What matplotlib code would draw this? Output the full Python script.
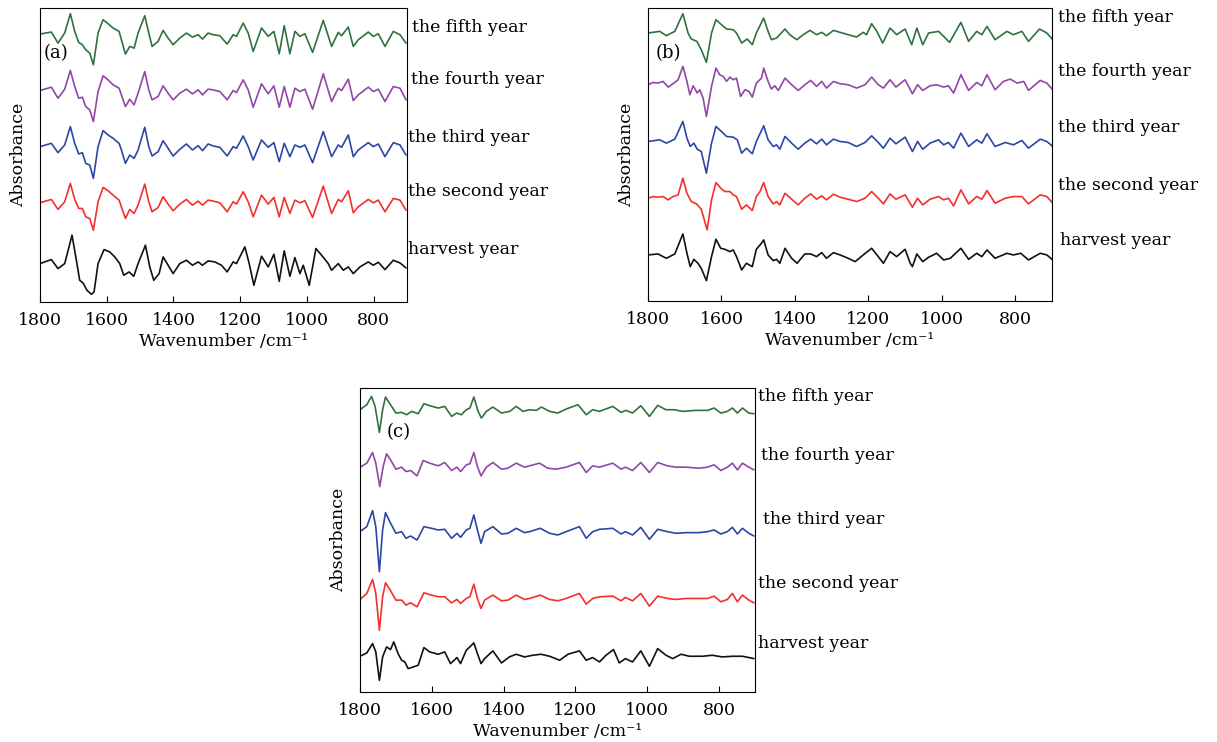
import matplotlib.pyplot as plt

plt.rcParams['font.family'] = 'DejaVu Serif'
plt.rcParams['font.size'] = 12.5

years = ['the fifth year', 'the fourth year', 'the third year', 'the second year', 'harvest year']
colors = ['#2f7240', '#9146a8', '#2b47a6', '#f2302c', '#111111']
ticks = [1800, 1600, 1400, 1200, 1000, 800]

# ---- panel (a): second-derivative spectra, arbitrary units ----
a_wn = [1800, 1766, 1746, 1726, 1709, 1696, 1684, 1673, 1663, 1651, 1640, 1626, 1611, 1596, 1581, 1563,
        1556, 1544, 1531, 1518, 1506, 1486, 1474, 1464, 1446, 1431, 1416, 1401, 1381, 1361, 1343, 1326,
        1313, 1296, 1281, 1261, 1239, 1221, 1211, 1191, 1176, 1161, 1136, 1116, 1099, 1083, 1068, 1051,
        1036, 1021, 1006, 983, 951, 926, 906, 896, 876, 861, 846, 816, 801, 786, 766, 741, 721, 703]
a_fifth = [-3, 3, -30, 0, 58, 5, -28, -35, -50, -60, -95, 0, 40, 28, 15, 5, -20, -63, -40, -45,
           0, 52, 0, -40, -25, 8, -15, -35, -15, 0, -12, -5, -18, 0, -5, -8, -33, -5, -10, 30,
           0, -55, 15, -10, 5, -62, 22, -62, 5, -10, -2, -58, 38, -40, 2, -8, 18, -40, -20, 3,
           -10, -2, -40, 5, -5, -30]
a_fourth = [-2, 8, -25, 2, 58, 10, -25, -22, -50, -60, -95, -5, 42, 30, 15, 5, -15, -50, -28, -45,
            -10, 55, 0, -30, -20, 12, -10, -30, -10, 2, -12, 0, -15, 2, 0, -5, -30, -2, -8, 30,
            0, -52, 18, -12, 12, -52, 10, -52, 5, -5, 2, -58, 48, -35, 5, -2, 32, -32, -15, 8,
            -5, 2, -35, 10, 5, -30]
a_third = [0, 10, -18, 5, 60, 10, -22, -18, -50, -55, -95, 0, 48, 35, 25, 10, -10, -50, -25, -35,
           -10, 58, 0, -28, -15, 18, -5, -28, -8, 8, -10, 3, -12, 8, 2, -2, -28, 0, -5, 32,
           0, -40, 20, -2, 12, -45, 10, -30, 5, -2, 5, -48, 45, -30, 5, -2, 35, -30, -10, 12,
           0, 8, -30, 12, 5, -25]
a_second = [-3, 7, -23, 0, 55, 7, -20, -20, -45, -50, -85, 0, 43, 33, 20, 5, -15, -50, -23, -35,
            -10, 53, 0, -30, -17, 15, -7, -27, -7, 7, -10, 2, -10, 5, 2, -3, -30, 0, -7, 30,
            0, -45, 20, -7, 13, -45, 13, -35, 5, -3, 3, -47, 47, -35, 7, 0, 33, -33, -15, 7,
            -3, 5, -30, 10, 5, -25]
a_harvest_wn = [1800, 1766, 1746, 1726, 1704, 1691, 1681, 1671, 1659, 1646, 1638, 1626, 1608, 1591, 1576,
                1561, 1549, 1533, 1519, 1506, 1484, 1471, 1459, 1443, 1431, 1416, 1401, 1381, 1361, 1343,
                1326, 1313, 1296, 1276, 1256, 1239, 1221, 1211, 1186, 1173, 1159, 1136, 1116, 1099, 1083,
                1068, 1051, 1036, 1021, 1011, 993, 973, 956, 936, 926, 906, 891, 876, 861, 841,
                816, 801, 786, 766, 741, 721, 703]
a_harvest = [0, 12, -15, 0, 85, 10, -50, -58, -80, -92, -85, 0, 42, 35, 20, 0, -35, -25, -38, 0,
             55, -10, -50, -30, 20, -5, -30, 0, 10, -5, 5, -5, 8, 5, -5, -25, 5, 0, 50, 0,
             -65, 22, -10, 28, -53, 38, -38, 18, -30, -5, -65, 45, 25, 0, -20, 0, -20, -10, -30, -10,
             5, -5, 4, -18, 10, 2, -13]

# ---- panel (b) ----
b_fifth_wn = [1800, 1768, 1750, 1727, 1705, 1691, 1682, 1667, 1655, 1641, 1627, 1615, 1600, 1586, 1568, 1559,
              1545, 1530, 1516, 1505, 1485, 1473, 1464, 1450, 1427, 1414, 1395, 1377, 1359, 1341, 1327, 1314,
              1295, 1277, 1255, 1232, 1214, 1205, 1191, 1177, 1161, 1141, 1123, 1100, 1082, 1068, 1052, 1036,
              1009, 995, 979, 948, 927, 905, 891, 877, 855, 823, 805, 782, 764, 734, 714, 698]
b_fifth = [0, 5, -8, 5, 58, 0, -18, -25, -50, -88, 0, 40, 25, 12, 10, 0, -30, -18, -35, 0,
           45, 5, -20, -15, 12, -5, -20, -5, 8, -5, 2, -8, 8, 2, -5, -12, 2, -5, 28, 5,
           -30, 15, -5, 12, -35, 15, -35, 0, 5, -10, -28, 32, -25, 5, -5, 20, -20, 5, -5, 5,
           -25, 12, 0, -20]
b_fourth_wn = [1800, 1786, 1773, 1759, 1745, 1732, 1718, 1705, 1694, 1686, 1677, 1666, 1659, 1650, 1641,
               1627, 1615, 1605, 1595, 1586, 1577, 1568, 1559, 1548, 1536, 1525, 1516, 1505, 1491, 1485,
               1473, 1464, 1455, 1445, 1427, 1409, 1391, 1373, 1357, 1341, 1327, 1314, 1295, 1277, 1255,
               1232, 1209, 1191, 1173, 1159, 1141, 1125, 1100, 1080, 1066, 1052, 1032, 1014, 995, 982,
               968, 948, 927, 905, 891, 877, 855, 832, 814, 795, 777, 764, 732, 714, 698]
b_fourth = [0, 7, 5, 10, -7, 3, 15, 55, 10, -30, -3, -25, -15, -40, -95, -5, 50, 30, 25, 10,
            23, 15, 20, -35, -15, -20, -37, 5, 20, 50, 10, -13, -3, -17, 20, 0, -17, 0, 13, -5,
            10, -10, 10, 3, 0, -10, 0, 23, 0, -10, 15, -7, 15, -27, 0, -17, -3, 0, -7, -3,
            -25, 30, -17, 7, -3, 30, -15, 10, 17, 5, 10, -17, 13, 5, -15]
b_third_wn = [1800, 1768, 1750, 1727, 1705, 1694, 1685, 1675, 1666, 1655, 1641, 1627, 1615, 1600, 1586,
              1568, 1557, 1545, 1532, 1516, 1505, 1485, 1473, 1459, 1450, 1441, 1427, 1409, 1391, 1373,
              1357, 1341, 1327, 1314, 1295, 1277, 1255, 1232, 1209, 1191, 1173, 1159, 1141, 1125, 1100,
              1080, 1066, 1052, 1032, 1009, 995, 982, 968, 948, 927, 905, 891, 877, 855, 827,
              805, 782, 764, 732, 714, 698]
b_third = [0, 5, -5, 7, 60, 10, -15, -5, -23, -30, -95, -5, 45, 30, 15, 13, 5, -35, -20, -37,
           0, 47, 5, -15, -10, -23, 15, -5, -23, -5, 7, -7, 7, -10, 7, 0, -3, -15, -3, 17,
           -3, -20, 10, -7, 13, -30, 0, -23, -5, 5, -10, -3, -20, 25, -15, 5, -5, 23, -15, -3,
           -10, 3, -20, 7, 0, -15]
b_second_wn = [1800, 1786, 1773, 1759, 1745, 1732, 1718, 1705, 1694, 1682, 1668, 1655, 1639, 1627, 1615,
               1602, 1591, 1577, 1568, 1559, 1545, 1532, 1516, 1505, 1495, 1485, 1473, 1459, 1450, 1441,
               1427, 1409, 1391, 1373, 1357, 1341, 1327, 1314, 1295, 1277, 1255, 1232, 1209, 1191, 1173,
               1159, 1141, 1125, 1100, 1080, 1066, 1052, 1032, 1009, 995, 982, 968, 948, 927, 905,
               891, 877, 855, 827, 805, 782, 764, 732, 714, 698]
b_second = [0, 5, 3, 5, -5, 5, 10, 60, 15, -10, -17, -33, -95, -5, 47, 30, 20, 20, 10, 5,
            -33, -20, -37, 5, 20, 47, 5, -17, -10, -20, 15, -3, -20, 0, 13, -3, 7, -5, 12, 3,
            -3, -10, 0, 20, 0, -17, 13, -3, 10, -27, 0, -20, -3, 5, -5, 0, -23, 25, -17, 5,
            -3, 23, -15, 0, 5, 5, -17, 10, 5, -15]
b_harvest_wn = [1800, 1773, 1750, 1727, 1705, 1694, 1685, 1675, 1664, 1655, 1641, 1627, 1615, 1602, 1591,
                1577, 1568, 1559, 1545, 1532, 1516, 1505, 1491, 1485, 1473, 1459, 1450, 1441, 1427, 1409,
                1394, 1373, 1357, 1341, 1327, 1314, 1295, 1277, 1255, 1236, 1214, 1191, 1173, 1159, 1141,
                1123, 1100, 1086, 1080, 1068, 1052, 1036, 1014, 995, 977, 948, 927, 905, 891, 877,
                855, 823, 805, 785, 764, 732, 714, 698]
b_harvest = [0, 3, -10, 3, 63, 5, -35, -13, -25, -40, -77, -5, 47, 20, 17, 10, 15, -5, -45, -25,
             -35, 17, 35, 45, 0, -17, -13, -25, 20, -10, -25, 3, 3, -5, 7, -10, 7, 0, -10, -20,
             0, 20, -5, -25, 10, -5, 17, -25, -35, 3, -20, -7, 5, -15, -10, 20, -13, 5, -5, 15,
             -10, 5, 0, 5, -15, 5, 0, -15]

# ---- panel (c) ----
c_fifth_wn = [1800, 1781, 1768, 1758, 1746, 1737, 1729, 1715, 1700, 1684, 1670, 1656, 1638, 1622, 1606, 1582,
              1564, 1545, 1531, 1518, 1504, 1494, 1483, 1471, 1462, 1448, 1430, 1406, 1383, 1365, 1346, 1328,
              1309, 1295, 1272, 1249, 1226, 1193, 1170, 1152, 1133, 1096, 1073, 1059, 1041, 1018, 994, 971,
              948, 925, 902, 865, 832, 814, 795, 777, 763, 749, 735, 717, 703]
c_fifth = [0, 15, 40, 10, -68, 0, 38, 15, -10, -8, -15, -5, -12, 18, 12, 5, 10, -20, -10, -15,
           0, 5, 38, -5, -25, -5, 8, -10, -5, 10, -5, 0, -2, 8, -5, -10, 2, 15, -15, 0,
           -5, 10, -8, -2, -10, 12, -20, 13, 0, 0, -5, -2, -2, 5, -10, -5, 5, -10, 5, -10, -12]
c_fourth_wn = [1800, 1781, 1765, 1756, 1745, 1735, 1726, 1715, 1700, 1684, 1672, 1659, 1641, 1624, 1606,
               1582, 1564, 1545, 1530, 1520, 1504, 1494, 1483, 1473, 1463, 1448, 1430, 1406, 1388, 1365,
               1342, 1328, 1300, 1277, 1254, 1226, 1189, 1170, 1152, 1133, 1096, 1073, 1061, 1041, 1018,
               994, 971, 944, 920, 893, 856, 832, 814, 795, 777, 763, 749, 735, 717, 703]
c_fourth = [-2, 10, 42, 10, -60, 2, 38, 20, -8, -2, -15, -12, -28, 18, 10, 2, 12, -12, -2, -15,
            5, 8, 42, 0, -28, -2, 12, -8, -5, 10, -2, 2, 10, -5, -8, -2, 12, -18, 2, -2,
            10, -8, -2, -12, 12, -18, 12, 2, -2, -2, -5, -2, 5, -12, -2, 10, -10, 10, -2, -10]
c_mid_wn = [1800, 1781, 1765, 1756, 1746, 1737, 1729, 1717, 1700, 1684, 1672, 1659, 1641, 1622, 1601,
            1582, 1564, 1545, 1530, 1520, 1504, 1494, 1483, 1473, 1463, 1453, 1430, 1406, 1388, 1365,
            1342, 1328, 1298, 1272, 1249, 1226, 1189, 1170, 1152, 1133, 1096, 1073, 1061, 1041, 1018,
            994, 971, 944, 920, 893, 856, 832, 814, 795, 777, 763, 749, 735, 717, 703]
c_third = [0, 15, 63, 15, -120, 5, 57, 30, -5, 0, -20, -13, -25, 15, 10, 5, 7, -20, -5, -17,
           5, 10, 50, 5, -35, 0, 15, -7, -5, 10, -3, 0, 10, -5, -10, 0, 15, -20, 0, 7,
           10, -7, 0, -10, 13, -23, 7, 0, -5, -3, -3, 0, 5, -7, 0, 13, -7, 10, -5, -13]
c_second = [-3, 15, 57, 15, -95, 5, 47, 27, -5, -5, -20, -13, -25, 17, 10, 5, 5, -13, -3, -15,
            0, 5, 43, 0, -30, -5, 10, -7, -5, 10, -3, 0, 10, -3, -7, 0, 15, -17, 0, 5,
            7, -7, 3, -7, 15, -23, 7, 0, -3, 0, 0, 0, 7, -10, -3, 15, -10, 10, -5, -13]
c_harvest_wn = [1800, 1781, 1765, 1756, 1746, 1737, 1726, 1715, 1706, 1694, 1684, 1675, 1666, 1652, 1638,
                1622, 1606, 1582, 1564, 1548, 1530, 1520, 1504, 1494, 1483, 1473, 1463, 1453, 1430, 1406,
                1384, 1365, 1342, 1319, 1296, 1272, 1244, 1221, 1189, 1170, 1152, 1133, 1115, 1094, 1078,
                1061, 1041, 1018, 994, 971, 948, 929, 906, 883, 846, 819, 791, 763, 735, 703]
c_harvest = [0, 10, 38, 13, -72, -2, 28, 20, 43, 8, -12, -17, -37, -32, -27, 26, 13, 6, 13, -22,
             -4, -22, 18, 28, 40, 8, -22, -7, 16, -20, -2, 6, -2, 3, 6, 0, -12, 6, 16, -12,
             -4, -17, 3, 20, -20, -7, -17, 16, -30, 23, 3, -7, 6, 0, 0, 3, -2, 0, 0, -7]

W, H = 1217, 742
fig = plt.figure(figsize=(W / 100, H / 100), dpi=100)


def panel(box, curves, offsets, top, tag, tag_xy, label_xy):
    left, top_px, right, bottom_px = box
    ax = fig.add_axes([left / W, 1 - bottom_px / H, (right - left) / W, (bottom_px - top_px) / H])
    for (wn, vals), off, col in zip(curves, offsets, colors):
        ax.plot(wn, [v + off for v in vals], color=col, lw=1.2,
                solid_joinstyle='round', solid_capstyle='round')
    ax.set_xlim(1800, 700)
    ax.set_ylim(0, top)
    ax.set_xticks(ticks)
    ax.set_yticks([])
    ax.tick_params(axis='x', direction='in', length=4, pad=7, labelsize=12.5)
    ax.set_xlabel('Wavenumber /cm⁻¹', labelpad=3)
    ax.set_ylabel('Absorbance', labelpad=9)
    fig.text(tag_xy[0] / W, 1 - tag_xy[1] / H, tag, ha='center', va='center', fontsize=13)
    for name, (x, y) in zip(years, label_xy):
        fig.text(x / W, 1 - y / H, name, ha='left', va='center')


panel((40, 8, 407, 302),
      [(a_wn, a_fifth), (a_wn, a_fourth), (a_wn, a_third), (a_wn, a_second), (a_harvest_wn, a_harvest)],
      [805, 635, 465, 300, 115], 880, '(a)', (56, 53),
      [(412, 27), (411, 79), (408, 137), (408, 192), (408, 250)])
panel((648, 8, 1052, 301),
      [(b_fifth_wn, b_fifth), (b_fourth_wn, b_fourth), (b_third_wn, b_third),
       (b_second_wn, b_second), (b_harvest_wn, b_harvest)],
      [803, 648, 478, 308, 138], 878, '(b)', (668, 53),
      [(1058, 18), (1058, 71), (1058, 128), (1058, 185), (1060, 241)])
panel((360, 388, 755, 692),
      [(c_fifth_wn, c_fifth), (c_fourth_wn, c_fourth), (c_mid_wn, c_third),
       (c_mid_wn, c_second), (c_harvest_wn, c_harvest)],
      [845, 675, 480, 280, 107], 910, '(c)', (399, 432),
      [(758, 397), (761, 455), (763, 520), (758, 584), (758, 643)])

fig.savefig('out.png', dpi=100)
